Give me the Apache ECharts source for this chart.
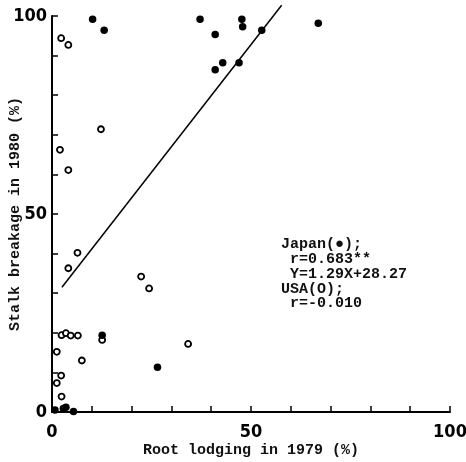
<!DOCTYPE html>
<html>
<head>
<meta charset="utf-8">
<script src="https://cdn.jsdelivr.net/npm/echarts@6/dist/echarts.min.js"></script>
<style>
  html, body { margin: 0; padding: 0; background: #fff; }
  #chart { width: 466px; height: 462px; }
</style>
</head>
<body>
<div id="chart"></div>
<script>
// 日本 (filled) : [root lodging 1979, stalk breakage 1980]
const japanX = [10.2, 13.1, 37.2, 41.0, 41.0, 42.9, 47.0, 47.7, 47.9, 52.7, 66.9, 26.5, 12.6, 0.75, 2.85, 3.5, 5.4]
const japanY = [99.2, 96.4, 99.2, 95.3, 86.4, 88.2, 88.2, 99.2, 97.3, 96.4, 98.2, 11.3, 19.4, 0.5, 0.9, 1.2, 0.1]

// USA (open)
const usaX = [2.3, 4.1, 12.3, 2.0, 4.1, 6.4, 4.1, 22.4, 24.4, 2.4, 3.5, 4.7, 6.5, 12.6, 34.2, 7.5, 1.2, 2.3, 1.2, 2.4]
const usaY = [94.4, 92.7, 71.4, 66.2, 61.1, 40.2, 36.3, 34.2, 31.2, 19.4, 19.9, 19.3, 19.3, 18.2, 17.2, 13.0, 15.2, 9.2, 7.3, 3.9]

// regression line end points (Japan)
const lineX = [2.5, 57.7]
const lineY = [31.5, 102.7]

const tickLabels = [0, 50, 100]

const noteLines = [
  'Japan(●);',
  ' r=0.683**',
  ' Y=1.29X+28.27',
  'USA(O);',
  ' r=-0.010'
]

const pairs = (xs, ys) => xs.map((x, i) => [x, ys[i]])

const monoFont = '"Liberation Mono", "DejaVu Sans Mono", monospace'
const tickFont = '"DejaVu Sans Condensed", "DejaVu Sans", sans-serif'

function axisOpt(name, nameGap) {
  return {
    type: 'value',
    min: 0,
    max: 100,
    interval: 10,
    name: name,
    nameLocation: 'middle',
    nameGap: nameGap,
    nameMoveOverlap: false,
    nameTextStyle: { fontFamily: monoFont, fontSize: 15, fontWeight: 'bold', color: '#111' },
    axisLine: { show: true, lineStyle: { color: '#000', width: 2 } },
    axisTick: { show: true, inside: true, length: 6, lineStyle: { color: '#000', width: 1.5 } },
    axisLabel: {
      fontFamily: tickFont,
      fontSize: 18,
      fontWeight: 'bold',
      color: '#000',
      formatter: v => (tickLabels.indexOf(v) >= 0 ? String(v) : '')
    },
    splitLine: { show: false }
  }
}

const chart = echarts.init(document.getElementById('chart'))

const xAxis = axisOpt('Root lodging in 1979 (%)', 31)
xAxis.axisLabel.margin = 11
const yAxis = axisOpt('Stalk breakage in 1980 (%)', 29)
yAxis.axisLabel.margin = 5

chart.setOption({
  animation: false,
  backgroundColor: '#fff',
  grid: { left: 52, top: 16, width: 398, height: 396, containLabel: false, outerBoundsMode: 'none' },
  xAxis: xAxis,
  yAxis: yAxis,
  graphic: [{
    type: 'text',
    left: 281,
    top: 237,
    style: {
      text: noteLines.join('\n'),
      fontFamily: monoFont,
      fontSize: 15,
      fontWeight: 'bold',
      lineHeight: 14.8,
      fill: '#111'
    }
  }],
  series: [
    {
      type: 'line',
      data: pairs(lineX, lineY),
      clip: false,
      showSymbol: false,
      lineStyle: { color: '#000', width: 1.5 },
      z: 2
    },
    {
      name: 'USA',
      type: 'scatter',
      data: pairs(usaX, usaY),
      symbol: 'circle',
      symbolSize: 6,
      itemStyle: { color: '#fff', borderColor: '#000', borderWidth: 1.8, opacity: 1 },
      z: 3
    },
    {
      name: 'Japan',
      type: 'scatter',
      data: pairs(japanX, japanY),
      symbol: 'circle',
      symbolSize: 7.5,
      itemStyle: { color: '#000', opacity: 1 },
      z: 4
    }
  ]
})
</script>
</body>
</html>
